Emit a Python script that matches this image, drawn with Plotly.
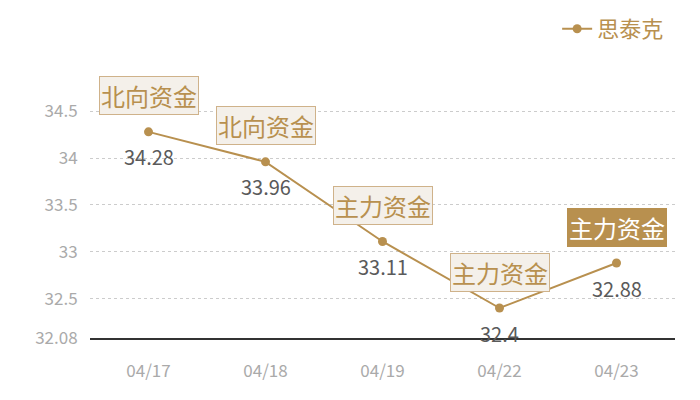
import plotly.graph_objects as go

dates = ["04/17", "04/18", "04/19", "04/22", "04/23"]
values = [34.28, 33.96, 33.11, 32.4, 32.88]
tags = ["北向资金", "北向资金", "主力资金", "主力资金", "主力资金"]
series_name = "思泰克"
y_min = 32.08
y_max = 34.62
tick_vals = [32.08, 32.5, 33, 33.5, 34, 34.5, 34.62]
tick_text = ["32.08", "32.5", "33", "33.5", "34", "34.5", ""]

gold = "#b8904f"
font_cjk = "Noto Sans CJK SC"

fig = go.Figure()
fig.add_trace(go.Scatter(
    x=dates, y=values, mode="lines+markers", name=series_name,
    line=dict(color=gold, width=2),
    marker=dict(color=gold, size=9),
))

for i, (d, v, t) in enumerate(zip(dates, values, tags)):
    last = i == len(dates) - 1
    fig.add_annotation(
        x=d, y=v, xref="x", yref="y", text=t, showarrow=False,
        yshift=36,
        font=dict(family=font_cjk, size=24, color="#ffffff" if last else gold),
        bgcolor=gold if last else "#f4f0ea",
        bordercolor=gold if last else "#cfb28a",
        borderwidth=1, borderpad=1,
    )
    fig.add_annotation(
        x=d, y=v, xref="x", yref="y", text=str(v), showarrow=False,
        yshift=-25,
        font=dict(family=font_cjk, size=20, color="#5a5a5a"),
    )

fig.update_layout(
    width=700, height=400,
    margin=dict(l=82, r=33, t=92, b=70),
    paper_bgcolor="white", plot_bgcolor="white",
    showlegend=True,
    legend=dict(x=0.99, xanchor="right", y=1.0, yanchor="top", yref="container",
                orientation="h", font=dict(family=font_cjk, size=22, color=gold),
                itemwidth=30, bgcolor="rgba(0,0,0,0)"),
    xaxis=dict(type="category", range=[-0.5, 4.5], showgrid=False, automargin=False,
               showline=True, linecolor="#333333", linewidth=1.5,
               ticks="outside", ticklen=17, tickcolor="rgba(0,0,0,0)",
               tickfont=dict(family=font_cjk, size=17, color="#aaaaaa"),
               zeroline=False),
    yaxis=dict(range=[y_min, y_max], tickvals=tick_vals, ticktext=tick_text,
               automargin=False,
               showgrid=True, gridcolor="#cccccc", griddash="dot", gridwidth=1,
               showline=False, zeroline=False,
               ticks="outside", ticklen=8, tickcolor="rgba(0,0,0,0)",
               tickfont=dict(family=font_cjk, size=17, color="#aaaaaa")),
)

fig.write_html("out.html")
